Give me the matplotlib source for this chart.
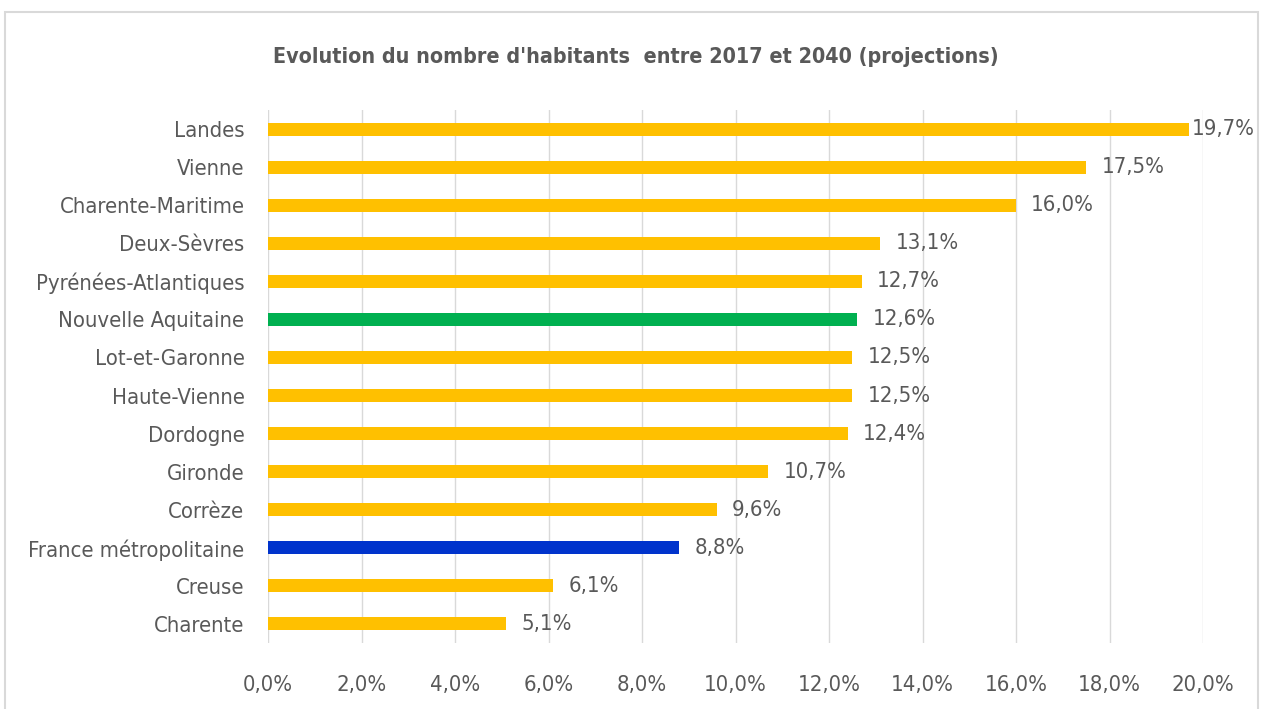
import matplotlib
matplotlib.use('Agg')
import matplotlib.pyplot as plt
from matplotlib.patches import Rectangle
from matplotlib.ticker import FuncFormatter

plt.rcParams['font.family'] = ['DejaVu Sans']
plt.rcParams['font.stretch'] = 'condensed'

regions = ['Landes', 'Vienne', 'Charente-Maritime', 'Deux-Sèvres', 'Pyrénées-Atlantiques',
           'Nouvelle Aquitaine', 'Lot-et-Garonne', 'Haute-Vienne', 'Dordogne', 'Gironde',
           'Corrèze', 'France métropolitaine', 'Creuse', 'Charente']
values = [19.7, 17.5, 16.0, 13.1, 12.7, 12.6, 12.5, 12.5, 12.4, 10.7, 9.6, 8.8, 6.1, 5.1]

yellow = '#FFC000'
special = {'Nouvelle Aquitaine': '#00B050', 'France métropolitaine': '#0033CC'}
colors = [special.get(r, yellow) for r in regions]
grey = '#595959'

fig = plt.figure(figsize=(12.62, 7.09), dpi=100)
fig.patch.set_facecolor('white')
fig.patches.append(Rectangle((5 / 1262, -0.05), 1253 / 1262, 1.05 - 12 / 709,
                             transform=fig.transFigure, fill=False,
                             edgecolor='#D9D9D9', linewidth=1.5))
ax = fig.add_axes([268 / 1262, 1 - 643 / 709, 935 / 1262, 533 / 709])

pos = list(range(len(regions)))
ax.barh(pos, values, height=0.34, color=colors, zorder=3)
ax.set_ylim(len(regions) - 0.5, -0.5)
ax.set_xlim(0, 20)
ax.set_xticks(range(0, 21, 2))
ax.xaxis.set_major_formatter(FuncFormatter(lambda v, p: f'{v:.1f}%'.replace('.', ',')))
ax.set_yticks(pos)
ax.set_yticklabels(regions)
ax.grid(axis='x', color='#D9D9D9', linewidth=1, zorder=0)
for s in ax.spines.values():
    s.set_visible(False)
ax.tick_params(axis='both', length=0, labelsize=15.8, colors=grey)
ax.tick_params(axis='x', pad=23)
ax.tick_params(axis='y', pad=17)

for y, v in zip(pos, values):
    off = 2 if v > 19 else 11
    ax.annotate(f'{v:.1f}%'.replace('.', ','), (v, y), xytext=(off, 0),
                textcoords='offset points', va='center', ha='left',
                fontsize=15.8, color=grey, clip_on=False)

fig.text(0.504, 1 - 57 / 709, "Evolution du nombre d'habitants  entre 2017 et 2040 (projections)",
         ha='center', va='center', fontsize=15.4, fontweight='bold', color=grey)

fig.savefig('out.png', dpi=100)
